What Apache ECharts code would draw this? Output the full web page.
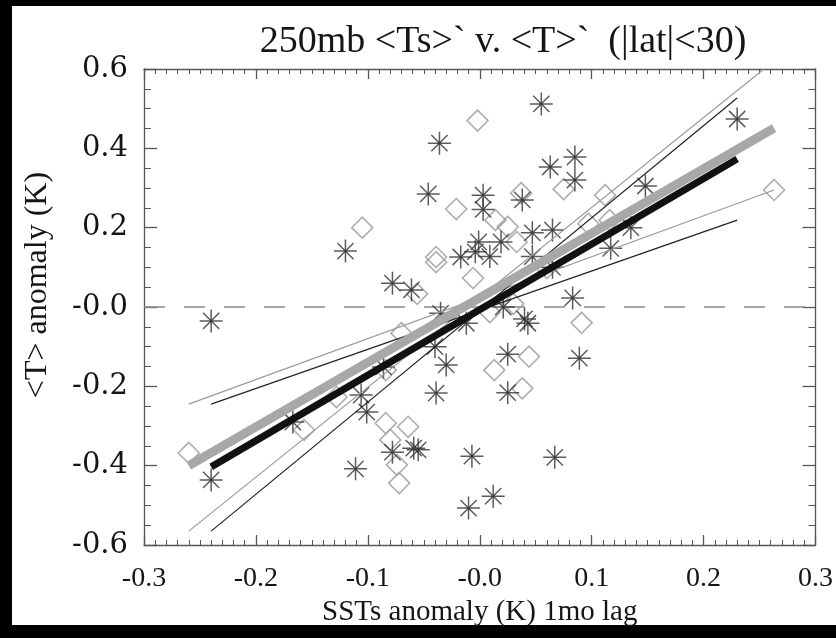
<!DOCTYPE html>
<html>
<head>
<meta charset="utf-8">
<script src="https://cdn.jsdelivr.net/npm/echarts@6/dist/echarts.min.js"></script>
<style>
  html, body { margin: 0; padding: 0; background: #000; }
  #wrap { position: relative; width: 836px; height: 638px; background: #000; }
  #paper { position: absolute; left: 12px; top: 6px; width: 824px; height: 619px; background: #fff; }
  #chart { position: absolute; left: 0; top: 0; width: 836px; height: 638px; }
</style>
</head>
<body>
<div id="wrap"><div id="paper"></div><div id="chart"></div></div>
<script>
// ---- data ----
const titleText = "250mb <Ts>` v. <T>`  (|lat|<30)";
const xAxisName = "SSTs anomaly (K) 1mo lag";
const yAxisName = "<T> anomaly (K)";

const asteriskPoints = [
  [-0.036, 0.413], [-0.046, 0.285], [-0.120, 0.141], [-0.017, 0.126], [-0.004, 0.139],
  [-0.078, 0.060], [-0.061, 0.043], [0.055, 0.512], [0.230, 0.474], [0.063, 0.353],
  [0.085, 0.378], [0.085, 0.320], [0.148, 0.305], [0.003, 0.282], [0.003, 0.246],
  [0.038, 0.270], [0.047, 0.187], [0.065, 0.194], [-0.001, 0.164], [0.019, 0.164],
  [0.009, 0.127], [0.047, 0.127], [0.135, 0.200], [0.117, 0.148], [0.065, 0.100],
  [0.083, 0.023], [-0.240, -0.035], [-0.035, -0.016], [-0.012, -0.041], [-0.040, -0.100],
  [-0.030, -0.146], [-0.039, -0.217], [-0.086, -0.151], [-0.106, -0.222], [-0.101, -0.265],
  [-0.167, -0.290], [-0.240, -0.436], [-0.078, -0.366], [-0.059, -0.356], [-0.055, -0.360],
  [-0.111, -0.408], [-0.007, -0.376], [-0.010, -0.507], [0.021, 0.000], [0.040, -0.030],
  [0.043, -0.041], [0.025, -0.119], [0.089, -0.129], [0.025, -0.216], [0.067, -0.379],
  [0.012, -0.477]
];

const diamondPoints = [
  [-0.002, 0.470], [-0.021, 0.247], [-0.105, 0.200], [-0.039, 0.126], [-0.039, 0.113],
  [-0.006, 0.073], [-0.056, 0.033], [0.075, 0.297], [0.112, 0.282], [0.263, 0.295],
  [0.037, 0.287], [0.014, 0.219], [0.025, 0.202], [0.033, 0.164], [0.097, 0.210],
  [0.116, 0.219], [0.060, 0.098], [0.030, 0.008], [0.009, -0.013], [-0.070, -0.066],
  [-0.084, -0.159], [-0.128, -0.227], [-0.157, -0.310], [-0.260, -0.368], [-0.084, -0.293],
  [-0.064, -0.302], [-0.080, -0.335], [-0.074, -0.398], [-0.072, -0.444], [0.091, -0.040],
  [0.044, -0.125], [0.013, -0.159], [0.038, -0.205]
];

const thickGreyLine    = [[-0.260, -0.400], [0.263, 0.451]];
const thickBlackLine   = [[-0.240, -0.403], [0.230, 0.373]];
const thinBlackSteep   = [[-0.240, -0.565], [0.230, 0.527]];
const thinBlackShallow = [[-0.240, -0.245], [0.230, 0.219]];
const thinGreySteep    = [[-0.260, -0.565], [0.254, 0.600]];
const thinGreyShallow  = [[-0.260, -0.245], [0.263, 0.295]];
const zeroLine         = [[-0.3, 0], [0.3, 0]];

const xTickMin = -0.3, xTickMax = 0.3, xTickStep = 0.1;
const yTickMin = -0.6, yTickMax = 0.6, yTickStep = 0.2;

// ---- chart ----
const serif = "'Liberation Serif', 'DejaVu Serif', serif";
const wideSerif = "'DejaVu Serif', 'Liberation Serif', serif";
const frameColor = '#555';
const textColor = '#151515';
const fmt = v => (Math.abs(v) < 1e-9 ? '-0.0' : v.toFixed(1));

const asteriskPath = 'path://M10,0L10,20M0,10L20,10M2.93,2.93L17.07,17.07M17.07,2.93L2.93,17.07M9.1,9.1L10.9,9.1L10.9,10.9L9.1,10.9Z';

function axisCommon(isX, showLabels, position) {
  return {
    type: 'value',
    position: position,
    min: isX ? xTickMin : yTickMin,
    max: isX ? xTickMax : yTickMax,
    interval: isX ? xTickStep : yTickStep,
    axisLine: { show: true, onZero: false, lineStyle: { color: frameColor, width: 1.3 } },
    axisTick: { show: true, inside: true, length: isX ? 10 : 13, lineStyle: { color: frameColor, width: 1.3 } },
    minorTick: { show: true, splitNumber: isX ? 10 : 4, length: isX ? 5 : 7, lineStyle: { color: frameColor, width: 1 } },
    splitLine: { show: false },
    minorSplitLine: { show: false },
    axisLabel: {
      show: showLabels, formatter: fmt,
      fontFamily: isX ? serif : wideSerif, fontSize: isX ? 28 : 29, color: textColor,
      margin: isX ? 20 : 16
    }
  };
}

const xBottom = Object.assign(axisCommon(true, true, 'bottom'), {
  name: xAxisName, nameLocation: 'middle', nameGap: 50,
  nameTextStyle: { fontFamily: serif, fontSize: 29, color: textColor, verticalAlign: 'top' }
});
const xTop = axisCommon(true, false, 'top');
const yLeft = axisCommon(false, true, 'left');
const yRight = axisCommon(false, false, 'right');

function lineSeries(data, color, width, z, dash) {
  return {
    type: 'line', data: data, xAxisIndex: 0, yAxisIndex: 0,
    symbol: 'none', silent: true, animation: false, z: z,
    lineStyle: { color: color, width: width, type: dash || 'solid', cap: 'butt' },
    clip: true
  };
}

const chart = echarts.init(document.getElementById('chart'), null, { renderer: 'canvas' });
chart.setOption({
  backgroundColor: 'transparent',
  animation: false,
  title: {
    text: titleText, left: 498, top: 18, textAlign: 'center',
    textStyle: { fontFamily: serif, fontSize: 38, fontWeight: 'normal', color: textColor }
  },
  graphic: [{
    type: 'text', x: 38, y: 285, rotation: Math.PI / 2,
    style: {
      text: yAxisName, fontFamily: serif, fontSize: 32, fill: textColor,
      align: 'center', verticalAlign: 'middle'
    }
  }],
  grid: { left: 144, right: 17, top: 69, bottom: 93, containLabel: false },
  xAxis: [xBottom, xTop],
  yAxis: [yLeft, yRight],
  series: [
    lineSeries(zeroLine, '#8a8a8a', 1.5, 1, [21, 19]),
    {
      type: 'scatter', data: diamondPoints, symbol: 'diamond', symbolSize: [21, 21],
      itemStyle: { color: 'rgba(0,0,0,0)', borderColor: '#9a9a9a', borderWidth: 1.6 },
      z: 2, animation: false, silent: true
    },
    {
      type: 'scatter', data: asteriskPoints, symbol: asteriskPath, symbolSize: 23,
      itemStyle: { color: '#111', borderColor: '#333', borderWidth: 1.5 },
      z: 3, animation: false, silent: true
    },
    lineSeries(thinGreySteep, '#9a9a9a', 1.2, 4),
    lineSeries(thinGreyShallow, '#9a9a9a', 1.2, 4),
    lineSeries(thinBlackSteep, '#222', 1.2, 5),
    lineSeries(thinBlackShallow, '#222', 1.2, 5),
    lineSeries(thickGreyLine, '#a8a8a8', 9, 6),
    lineSeries(thickBlackLine, '#111', 7, 7)
  ]
});
</script>
</body>
</html>
